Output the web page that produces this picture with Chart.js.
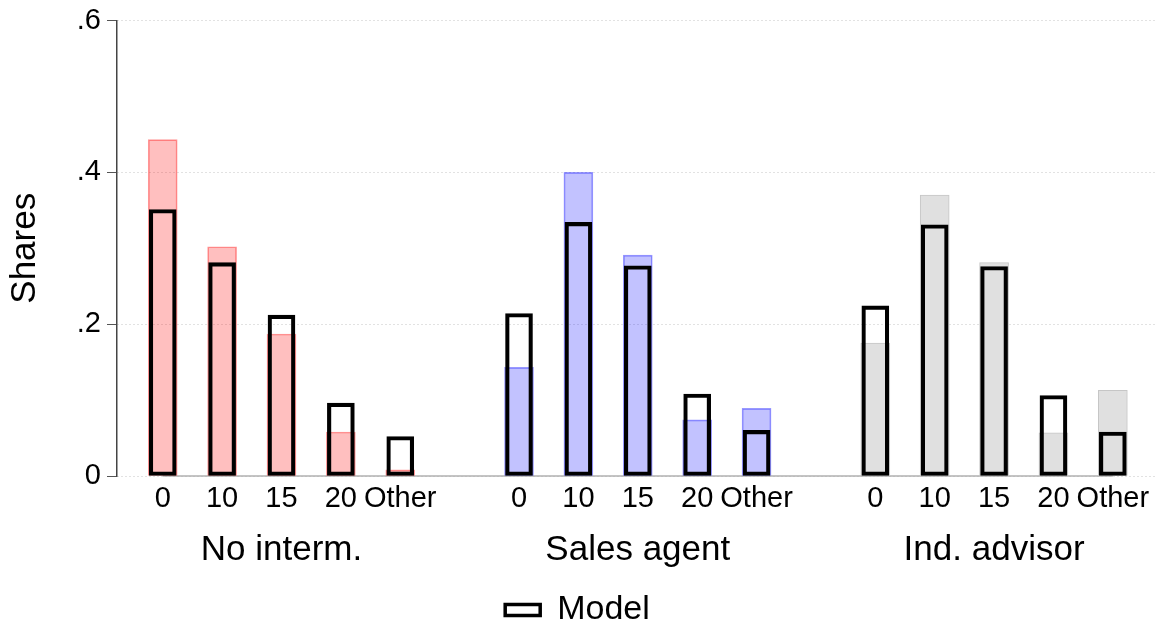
<!DOCTYPE html>
<html>
<head>
<meta charset="utf-8">
<script src="https://cdn.jsdelivr.net/npm/chart.js@4.4.1/dist/chart.umd.min.js"></script>
<style>
  body { margin: 0; background: #fff; }
  canvas { display: block; }
</style>
</head>
<body>
<canvas id="sharesChart" width="1169" height="627"></canvas>
<script>
const categories = ["0", "10", "15", "20", "Other"];
const groups = ["No interm.", "Sales agent", "Ind. advisor"];

// observed shares (filled bars)
const dataNoInterm = [0.443, 0.302, 0.187, 0.058, 0.008];
const dataSalesAgent = [0.143, 0.400, 0.291, 0.074, 0.089];
const dataIndAdvisor = [0.175, 0.370, 0.281, 0.057, 0.113];

// model shares (black outlines)
const modelNoInterm = [0.351, 0.281, 0.212, 0.096, 0.052];
const modelSalesAgent = [0.214, 0.334, 0.277, 0.108, 0.060];
const modelIndAdvisor = [0.224, 0.331, 0.276, 0.106, 0.058];

const yTicks = [0, 0.2, 0.4, 0.6];
const yTickLabels = ["0", ".2", ".4", ".6"];

const fontFamily = "'Liberation Sans', Arial, Helvetica, sans-serif";

// each group takes 5 slots plus one empty slot
const xPositions = [];
const xLabels = [];
groups.forEach((g, gi) => {
    categories.forEach((c, ci) => {
        xPositions.push(gi * 6 + ci);
        xLabels.push(c);
    });
});
const groupPositions = groups.map((g, gi) => gi * 6 + 2);

function points(gi, values) {
    return values.map((v, i) => ({ x: gi * 6 + i, y: v }));
}

const dataSets = [
    { label: "No interm.", values: dataNoInterm, fill: "rgba(255,0,0,0.25)", line: "rgba(255,0,0,0.4)" },
    { label: "Sales agent", values: dataSalesAgent, fill: "rgba(0,0,255,0.24)", line: "rgba(0,0,255,0.4)" },
    { label: "Ind. advisor", values: dataIndAdvisor, fill: "#e0e0e0", line: "#c6c6c6" },
];

const datasets = dataSets.map((d, gi) => ({
    label: d.label,
    data: points(gi, d.values),
    backgroundColor: d.fill,
    borderColor: d.line,
    borderWidth: 1,
    borderSkipped: false,
    barThickness: 29,
    grouped: false,
    order: 1,
}));

datasets.push({
    label: "Model",
    data: [].concat(points(0, modelNoInterm), points(1, modelSalesAgent), points(2, modelIndAdvisor)),
    backgroundColor: "rgba(0,0,0,0)",
    borderColor: "#000",
    borderWidth: 3.5,
    borderSkipped: false,
    barThickness: 27,
    grouped: false,
    order: 0,
});

// gray baseline running between first and last bar, like the original
const baseline = {
    id: "baseline",
    beforeDatasetsDraw(chart) {
        const { ctx, scales } = chart;
        const y = scales.y.getPixelForValue(0);
        ctx.save();
        ctx.strokeStyle = "#b0b0b0";
        ctx.lineWidth = 1.5;
        ctx.beginPath();
        ctx.moveTo(scales.x.getPixelForValue(xPositions[0]), y);
        ctx.lineTo(scales.x.getPixelForValue(xPositions[xPositions.length - 1]), y);
        ctx.stroke();
        ctx.restore();
    },
};

new Chart(document.getElementById("sharesChart"), {
    type: "bar",
    data: { datasets: datasets },
    plugins: [baseline],
    options: {
        responsive: false,
        animation: false,
        layout: { padding: { top: 20, right: 14, left: 0, bottom: -10 } },
        plugins: {
            tooltip: { enabled: false },
            legend: {
                position: "bottom",
                labels: {
                    filter: (item) => item.text === "Model",
                    boxWidth: 35,
                    boxHeight: 11,
                    padding: 4,
                    color: "#000",
                    font: { family: fontFamily, size: 34 },
                },
            },
        },
        scales: {
            x: {
                type: "linear",
                offset: false,
                min: -0.77,
                max: 16.71,
                grid: { display: false, drawTicks: false },
                border: { display: false },
                afterBuildTicks: (axis) => {
                    axis.ticks = xPositions.map((v) => ({ value: v }));
                },
                afterFit: (scale) => { scale.height = 39; },
                ticks: {
                    autoSkip: false,
                    maxRotation: 0,
                    padding: 6,
                    color: "#000",
                    font: { family: fontFamily, size: 29 },
                    callback: (v, i) => xLabels[i],
                },
            },
            x2: {
                type: "linear",
                position: "bottom",
                offset: false,
                min: -0.77,
                max: 16.71,
                grid: { display: false, drawTicks: false },
                border: { display: false },
                afterBuildTicks: (axis) => {
                    axis.ticks = groupPositions.map((v) => ({ value: v }));
                },
                afterFit: (scale) => { scale.height = 74; },
                ticks: {
                    autoSkip: false,
                    maxRotation: 0,
                    padding: 14,
                    color: "#000",
                    font: { family: fontFamily, size: 35 },
                    callback: (v, i) => groups[i],
                },
            },
            y: {
                min: 0,
                max: 0.6,
                afterBuildTicks: (axis) => {
                    axis.ticks = yTicks.map((v) => ({ value: v }));
                },
                afterFit: (scale) => { scale.width = 117; },
                title: {
                    display: true,
                    text: "Shares",
                    color: "#000",
                    padding: { top: 4, bottom: 0 },
                    font: { family: fontFamily, size: 35 },
                },
                grid: {
                    color: "#c4c4c4",
                    tickBorderDash: [],
                    tickColor: "#555",
                    tickLength: 10,
                    lineWidth: 1,
                },
                border: { color: "#444", width: 1.5, dash: [1, 3] },
                ticks: {
                    padding: 6,
                    color: "#000",
                    font: { family: fontFamily, size: 29, lineHeight: 1 },
                    callback: (v, i) => yTickLabels[i],
                },
            },
        },
    },
});
</script>
</body>
</html>
